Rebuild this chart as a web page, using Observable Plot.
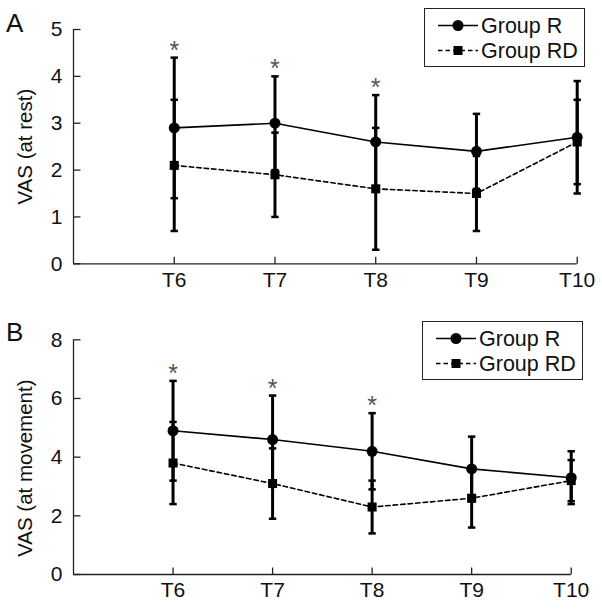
<!DOCTYPE html>
<html>
<head>
<meta charset="utf-8">
<script src="https://cdn.jsdelivr.net/npm/d3@7"></script>
<script src="https://cdn.jsdelivr.net/npm/@observablehq/plot@0.6"></script>
<style>
  body { margin: 0; background: #fff; font-family: "Liberation Sans", Arial, Helvetica, sans-serif; }
  #wrap { position: relative; width: 602px; height: 609px; overflow: hidden; }
  .panel { position: absolute; left: 0; }
  .plabel { position: absolute; left: 6px; font-size: 26px; line-height: 1; color: #111; }
  .legend { position: absolute; border: 1.3px solid #222; background: #fff; box-sizing: border-box; }
  .legend svg { display: block; }
</style>
</head>
<body>
<div id="wrap"></div>
<script>
// ---- data ----
const times = [6, 7, 8, 9, 10];
const tickLabels = ["T6", "T7", "T8", "T9", "T10"];
const groups = ["Group R", "Group RD"];
const significant = [6, 7, 8];

// Panel A: VAS at rest (mean, SD)
const restR    = [2.9, 3.0, 2.6, 2.4, 2.7];
const restRsd  = [1.5, 1.0, 1.0, 0.8, 1.2];
const restRD   = [2.1, 1.9, 1.6, 1.5, 2.6];
const restRDsd = [1.4, 0.9, 1.3, 0.8, 0.9];

// Panel B: VAS at movement (mean, SD)
const moveR    = [4.9, 4.6, 4.2, 3.6, 3.3];
const moveRsd  = [1.7, 1.5, 1.3, 1.1, 0.9];
const moveRD   = [3.8, 3.1, 2.3, 2.6, 3.2];
const moveRDsd = [1.4, 1.2, 0.9, 1.0, 0.7];

const yTicksA = [0, 1, 2, 3, 4, 5];
const yTicksB = [0, 2, 4, 6, 8];

const FONT = '"Liberation Sans", Arial, Helvetica, sans-serif';

const capSymbol = {
  draw(ctx, size) {
    const w = Math.sqrt(size / Math.PI);
    ctx.moveTo(-w, 0);
    ctx.lineTo(w, 0);
  }
};
const tickRight = {
  draw(ctx, size) {
    const w = Math.sqrt(size / Math.PI);
    ctx.moveTo(0, 0);
    ctx.lineTo(w, 0);
  }
};
const tickUp = {
  draw(ctx, size) {
    const w = Math.sqrt(size / Math.PI);
    ctx.moveTo(0, 0);
    ctx.lineTo(0, -w);
  }
};

function makePanel({R, Rsd, RD, RDsd, yMax, yTicks, title, titleDy, height, mt, mb, mr}) {
  const rowsR = times.map((t, i) => ({t, v: R[i], lo: R[i] - Rsd[i], hi: R[i] + Rsd[i]}));
  const rowsRD = times.map((t, i) => ({t, v: RD[i], lo: RD[i] - RDsd[i], hi: RD[i] + RDsd[i]}));
  const rows = rowsR.concat(rowsRD);
  const stars = rowsR.filter(d => significant.includes(d.t));
  return Plot.plot({
    width: 602,
    height,
    marginTop: mt,
    marginBottom: mb,
    marginLeft: 73,
    marginRight: mr,
    x: {domain: [5, 10], axis: null},
    y: {domain: [0, yMax], axis: null},
    style: {fontFamily: FONT, fontSize: "21px", color: "#111", background: "white", overflow: "visible"},
    marks: [
      Plot.ruleX([5], {stroke: "#222", strokeWidth: 1.3}),
      Plot.ruleY([0], {stroke: "#222", strokeWidth: 1.3}),
      Plot.dot(yTicks, {y: d => d, frameAnchor: "left", r: 7, symbol: tickRight, stroke: "#222", strokeWidth: 1.3, fill: "none"}),
      Plot.dot(times, {x: d => d, frameAnchor: "bottom", r: 7, symbol: tickUp, stroke: "#222", strokeWidth: 1.3, fill: "none"}),
      Plot.axisY({ticks: yTicks, tickFormat: d => String(d), tickSize: 0, tickPadding: 11, label: null, fontSize: 21}),
      Plot.axisX({ticks: times, tickFormat: d => tickLabels[times.indexOf(d)], tickSize: 0, tickPadding: 8, label: null, fontSize: 21}),
      Plot.text([title], {text: d => d, frameAnchor: "left", textAnchor: "middle", rotate: -90, dx: -48, dy: titleDy, fontSize: 20.5, fill: "#111"}),
      Plot.ruleX(rows, {x: "t", y1: "lo", y2: "hi", stroke: "#000", strokeWidth: 3}),
      Plot.dot(rows, {x: "t", y: "lo", r: 3.7, symbol: capSymbol, stroke: "#000", strokeWidth: 2.5, fill: "none"}),
      Plot.dot(rows, {x: "t", y: "hi", r: 3.7, symbol: capSymbol, stroke: "#000", strokeWidth: 2.5, fill: "none"}),
      Plot.line(rowsR, {x: "t", y: "v", stroke: "#000", strokeWidth: 1.6}),
      Plot.line(rowsRD, {x: "t", y: "v", stroke: "#000", strokeWidth: 1.6, strokeDasharray: "4.5,3"}),
      Plot.dot(rowsR, {x: "t", y: "v", r: 5.5, symbol: "circle", fill: "#000", stroke: "none"}),
      Plot.dot(rowsRD, {x: "t", y: "v", r: 5.1, symbol: "square", fill: "#000", stroke: "none"}),
      Plot.text(stars, {x: "t", y: "hi", text: () => "*", dy: -7, fontSize: 25, fill: "#555"})
    ]
  });
}

function makeLegend(left, top) {
  const div = document.createElement("div");
  div.className = "legend";
  div.style.left = left + "px";
  div.style.top = top + "px";
  div.style.width = "161px";
  div.style.height = "59px";
  const svg = d3.create("svg").attr("width", 159).attr("height", 57);
  const rowsY = [16.5, 41.5];
  groups.forEach((g, i) => {
    const y = rowsY[i];
    svg.append("line").attr("x1", 13).attr("x2", 53).attr("y1", y).attr("y2", y)
      .attr("stroke", "#000").attr("stroke-width", 1.6)
      .attr("stroke-dasharray", i === 1 ? "4.5,3" : null);
    if (i === 0) svg.append("circle").attr("cx", 33).attr("cy", y).attr("r", 5.5).attr("fill", "#000");
    else svg.append("rect").attr("x", 28.5).attr("y", y - 4.5).attr("width", 9).attr("height", 9).attr("fill", "#000");
    svg.append("text").attr("x", 56).attr("y", y).attr("dy", "0.36em")
      .attr("font-family", FONT).attr("font-size", 21.5).attr("fill", "#111").text(g);
  });
  div.appendChild(svg.node());
  return div;
}

const wrap = document.getElementById("wrap");

const pA = makePanel({R: restR, Rsd: restRsd, RD: restRD, RDsd: restRDsd, yMax: 5, yTicks: yTicksA,
  title: "VAS (at rest)", titleDy: 0, height: 300, mt: 29, mb: 36.7, mr: 25.3});
pA.classList.add("panel"); pA.style.top = "0px";
wrap.appendChild(pA);

const pB = makePanel({R: moveR, Rsd: moveRsd, RD: moveRD, RDsd: moveRDsd, yMax: 8, yTicks: yTicksB,
  title: "VAS (at movement)", titleDy: 11, height: 309, mt: 39.3, mb: 35, mr: 31.3});
pB.classList.add("panel"); pB.style.top = "300px";
wrap.appendChild(pB);

const la = document.createElement("div"); la.className = "plabel"; la.textContent = "A"; la.style.top = "10px"; wrap.appendChild(la);
const lb = document.createElement("div"); lb.className = "plabel"; lb.textContent = "B"; lb.style.top = "319px"; wrap.appendChild(lb);

wrap.appendChild(makeLegend(424, 8));
wrap.appendChild(makeLegend(422, 321));
</script>
</body>
</html>
